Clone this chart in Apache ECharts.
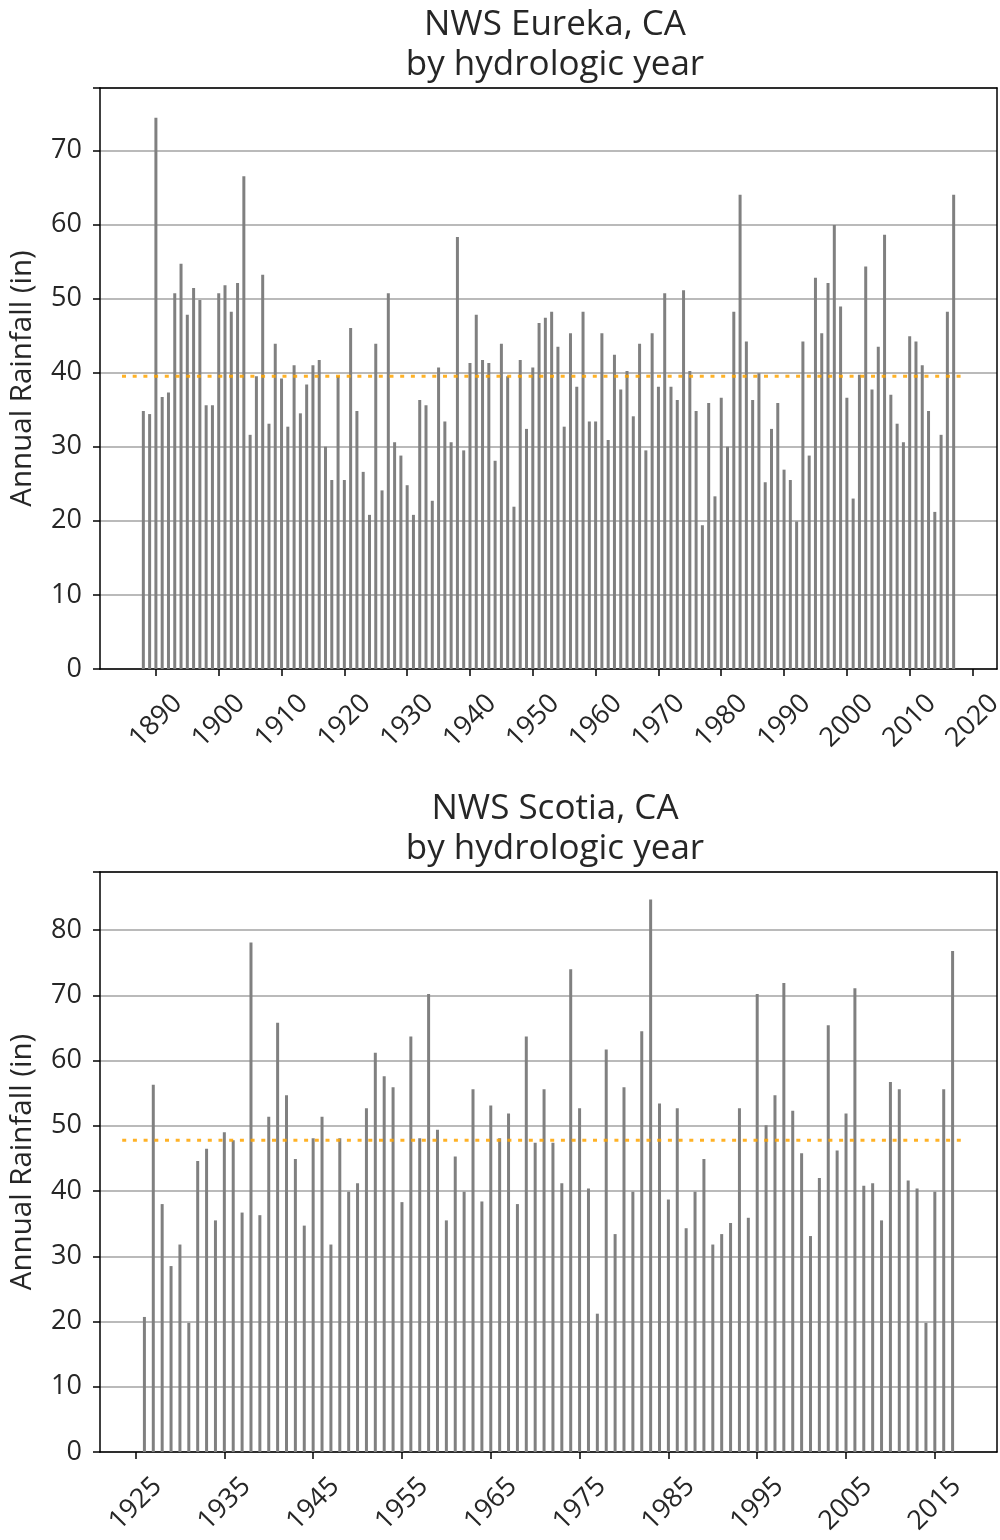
<!DOCTYPE html>
<html><head><meta charset="utf-8">
<script src="https://cdn.jsdelivr.net/npm/echarts@6/dist/echarts.min.js"></script>
<style>html,body{margin:0;padding:0;background:#fff}#c{width:1000px;height:1540px}</style>
</head><body><div id="c"></div>
<script>
// ---- Eureka data (hydrologic years) ----
const eurekaYears = [1888,1889,1890,1891,1892,1893,1894,1895,1896,1897,1898,1899,
1900,1901,1902,1903,1904,1905,1906,1907,1908,1909,1910,1911,1912,1913,1914,1915,1916,1917,1918,1919,
1920,1921,1922,1923,1924,1925,1926,1927,1928,1929,1930,1931,1932,1933,1934,1935,1936,1937,1938,1939,
1940,1941,1942,1943,1944,1945,1946,1947,1948,1949,1950,1951,1952,1953,1954,1955,1956,1957,1958,1959,
1960,1961,1962,1963,1964,1965,1966,1967,1968,1969,1970,1971,1972,1973,1974,1975,1976,1977,1978,1979,
1980,1981,1982,1983,1984,1985,1986,1987,1988,1989,1990,1991,1992,1993,1994,1995,1996,1997,1998,1999,
2000,2001,2002,2003,2004,2005,2006,2007,2008,2009,2010,2011,2012,2013,2014,2015,2016,2017];
const eurekaRain = [34.8,34.4,74.4,36.7,37.3,50.7,54.7,47.8,51.4,49.8,35.6,35.6,
50.7,51.8,48.2,52.1,66.5,31.6,39.5,53.2,33.1,43.9,39.2,32.7,41.0,34.5,38.4,41.0,41.7,30.0,25.5,39.5,
25.5,46.0,34.8,26.6,20.8,43.9,24.1,50.7,30.6,28.8,24.8,20.8,36.3,35.6,22.7,40.7,33.4,30.6,58.3,29.5,
41.3,47.8,41.7,41.3,28.1,43.9,39.5,21.9,41.7,32.4,40.7,46.7,47.4,48.2,43.5,32.7,45.3,38.1,48.2,33.4,
33.4,45.3,30.9,42.4,37.7,40.2,34.1,43.9,29.5,45.3,38.1,50.7,38.1,36.3,51.1,40.2,34.8,19.4,35.9,23.3,
36.6,30.0,48.2,64.0,44.2,36.3,39.9,25.2,32.4,35.9,26.9,25.5,19.9,44.2,28.8,52.8,45.3,52.1,59.9,48.9,
36.6,23.0,39.7,54.3,37.7,43.5,58.6,37.0,33.1,30.6,44.9,44.2,41.0,34.8,21.2,31.6,48.2,64.0];
const eurekaMean = 39.5;
const eurekaMeanSpan = [1884.6, 2018.5];
const eurekaTicks = [1890,1900,1910,1920,1930,1940,1950,1960,1970,1980,1990,2000,2010,2020];

// ---- Scotia data ----
const scotiaYears = [1926,1927,1928,1929,1930,1931,1932,1933,1934,1935,1936,1937,1938,1939,
1940,1941,1942,1943,1944,1945,1946,1947,1948,1949,1950,1951,1952,1953,1954,1955,1956,1957,1958,1959,
1960,1961,1962,1963,1964,1965,1966,1967,1968,1969,1970,1971,1972,1973,1974,1975,1976,1977,1978,1979,
1980,1981,1982,1983,1984,1985,1986,1987,1988,1989,1990,1991,1992,1993,1994,1995,1996,1997,1998,1999,
2000,2001,2002,2003,2004,2005,2006,2007,2008,2009,2010,2011,2012,2013,2014,2015,2016,2017];
const scotiaRain = [20.7,56.3,38.0,28.5,31.8,19.8,44.6,46.5,35.5,49.0,47.8,36.7,78.1,36.3,
51.4,65.8,54.7,44.9,34.7,48.1,51.4,31.8,48.1,39.9,41.2,52.7,61.2,57.6,55.9,38.3,63.7,48.1,70.2,49.4,
35.5,45.3,39.9,55.6,38.4,53.1,48.1,51.9,38.0,63.7,47.4,55.6,47.4,41.2,74.0,52.7,40.4,21.2,61.7,33.4,
55.9,39.9,64.5,84.7,53.4,38.7,52.7,34.3,39.9,44.9,31.8,33.4,35.1,52.7,35.9,70.2,50.1,54.7,71.9,52.3,
45.8,33.1,42.0,65.4,46.2,51.9,71.1,40.8,41.2,35.5,56.7,55.6,41.6,40.4,19.8,39.9,55.6,76.8];
const scotiaMean = 47.8;
const scotiaMeanSpan = [1923.5, 2018.2];
const scotiaTicks = [1925,1935,1945,1955,1965,1975,1985,1995,2005,2015];

const titles = ['NWS Eureka, CA\nby hydrologic year', 'NWS Scotia, CA\nby hydrologic year'];
const yName = 'Annual Rainfall (in)';

const FONT = 'Open Sans';
const TXT = '#262626';
const AX = { color: '#000', width: 1.5 };

function xAxisCfg(idx, min, max, ticks) {
  return {
    type: 'value', gridIndex: idx, min: min, max: max, position: 'bottom',
    splitLine: { show: false },
    axisLine: { show: true, onZero: false, lineStyle: AX },
    axisTick: { show: true, length: 7, customValues: ticks, lineStyle: AX },
    axisLabel: { customValues: ticks, rotate: 45, align: 'center', verticalAlign: 'middle', margin: 52,
      fontFamily: FONT, fontSize: 27, color: TXT, formatter: v => String(v) }
  };
}
function xFrame(idx, min, max) {
  return { type: 'value', gridIndex: idx, min: min, max: max, position: 'top',
    axisLine: { show: true, onZero: false, lineStyle: AX },
    axisTick: { show: false }, axisLabel: { show: false }, splitLine: { show: false } };
}
function yAxisCfg(idx, max) {
  return {
    type: 'value', gridIndex: idx, min: 0, max: max, interval: 10, position: 'left',
    name: yName, nameLocation: 'middle', nameRotate: 90, nameGap: 62,
    nameTextStyle: { fontFamily: FONT, fontSize: 29.5, color: TXT },
    axisLine: { show: true, onZero: false, lineStyle: AX },
    axisTick: { show: true, length: 7, lineStyle: AX },
    splitLine: { show: true, lineStyle: { color: '#a3a3a3', width: 1.5 } },
    axisLabel: { margin: 18, fontFamily: FONT, fontSize: 27, color: TXT,
      formatter: v => (v % 10 === 0 ? String(v) : '') }
  };
}
function yFrame(idx, max) {
  return { type: 'value', gridIndex: idx, min: 0, max: max, position: 'right',
    axisLine: { show: true, onZero: false, lineStyle: AX },
    axisTick: { show: false }, axisLabel: { show: false }, splitLine: { show: false } };
}
function barSeries(idx, years, vals) {
  return { type: 'bar', xAxisIndex: idx * 2, yAxisIndex: idx * 2, barWidth: 3,
    itemStyle: { color: '#808080' }, z: 2,
    data: years.map((y, i) => [y, vals[i]]) };
}
function meanSeries(idx, span, mean) {
  return { type: 'line', xAxisIndex: idx * 2, yAxisIndex: idx * 2, symbol: 'none', z: 4,
    lineStyle: { color: '#ffa500', width: 3, type: [4, 6.7], opacity: 0.85 },
    data: span.map(x => [x, mean]) };
}

const chart = echarts.init(document.getElementById('c'), null, { renderer: 'canvas' });
const titleStyle = { fontFamily: FONT, fontSize: 35, fontWeight: 'normal', color: TXT, lineHeight: 40 };
chart.setOption({
  animation: false,
  backgroundColor: '#fff',
  title: [
    { text: titles[0], left: 550, top: 0, textAlign: 'center', textStyle: titleStyle },
    { text: titles[1], left: 550, top: 784, textAlign: 'center', textStyle: titleStyle }
  ],
  grid: [
    { left: 100, right: 3, top: 88, height: 581, containLabel: false, outerBoundsMode: 'none' },
    { left: 100, right: 3, top: 872, height: 580, containLabel: false, outerBoundsMode: 'none' }
  ],
  xAxis: [ xAxisCfg(0, 1881.1, 2023.9, eurekaTicks), xFrame(0, 1881.1, 2023.9),
           xAxisCfg(1, 1921.0, 2022.0, scotiaTicks), xFrame(1, 1921.0, 2022.0) ],
  yAxis: [ yAxisCfg(0, 78.4), yFrame(0, 78.4), yAxisCfg(1, 88.9), yFrame(1, 88.9) ],
  series: [
    barSeries(0, eurekaYears, eurekaRain),
    meanSeries(0, eurekaMeanSpan, eurekaMean),
    barSeries(1, scotiaYears, scotiaRain),
    meanSeries(1, scotiaMeanSpan, scotiaMean)
  ]
});
</script></body></html>
